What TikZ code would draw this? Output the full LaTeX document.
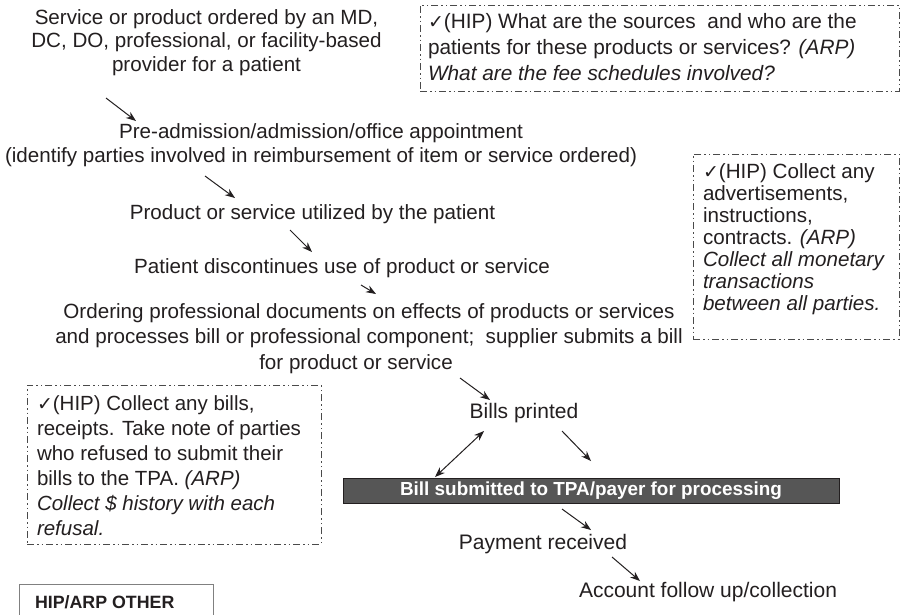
\documentclass[tikz,border=0pt]{standalone}
\usepackage{fontspec}
\setmainfont{Liberation Sans}
\newfontfamily\symfont{DejaVu Sans}
\usetikzlibrary{arrows.meta}
\definecolor{ink}{HTML}{231F20}
\definecolor{barfill}{HTML}{565656}
\definecolor{framegray}{HTML}{4A4A4A}
\newcommand{\tickmark}{{\symfont\fontsize{19}{19}\selectfont ✓}}

\begin{document}
\begin{tikzpicture}[x=1pt,y=-1pt,
  every node/.style={inner sep=0pt, outer sep=0pt, text=ink},
  flowtext/.style={align=center, font=\fontsize{20.6}{24.5}\selectfont},
  bigtext/.style={font=\fontsize{21}{25}\selectfont},
  notetext/.style={align=left, anchor=west},
  notebox/.style={draw=framegray, line width=0.9pt, anchor=north west,
    dash pattern=on 7pt off 3pt on 1.5pt off 3pt on 1.5pt off 3pt},
  flow/.style={draw=ink, line width=1pt, -{Stealth[length=10pt,width=7.5pt]}},
  flowboth/.style={draw=ink, line width=1pt, {Stealth[length=10pt,width=7.5pt]}-{Stealth[length=10pt,width=7.5pt]}},
]
\useasboundingbox (0,0) rectangle (901,614);
\clip (0,0) rectangle (901,614);
\fill[white] (0,0) rectangle (901,614);

% main flow of the bill
\node[flowtext, font=\fontsize{20.6}{23.5}\selectfont] (order) at (206.5,42.5)
  {Service or product ordered by an MD,\\ DC, DO, professional, or facility-based\\ provider for a patient};
\node[flowtext] (admit) at (321,145)
  {Pre-admission/admission/office appointment\\ (identify parties involved in reimbursement of item or service ordered)};
\node[flowtext] (use) at (312.5,214) {Product or service utilized by the patient};
\node[flowtext] (stop) at (342,268) {Patient discontinues use of product or service};
\node[flowtext, font=\fontsize{20.6}{25.5}\selectfont] (docs) at (369,338.5)
  {Ordering professional documents on effects of products or services\\
   and processes bill or professional component;~ supplier submits a bill\\
   \hspace*{-26pt}for product or service};
\node[bigtext] (bills) at (524,413) {Bills printed};
\node[fill=barfill, draw=ink, line width=0.8pt, minimum width=496, minimum height=25,
  text=white, font=\bfseries\fontsize{18.9}{20}\selectfont] (submit) at (591,490.5)
  {Bill submitted to TPA/payer for processing};
\node[bigtext] (paid) at (543,544) {Payment received};
\node[bigtext] (follow) at (708,592) {Account follow up/collection};

% arrow end points
\coordinate (a1s) at (106,98);  \coordinate (a1e) at (136,121);
\coordinate (a2s) at (205,176); \coordinate (a2e) at (235,198);
\coordinate (a3s) at (290,230); \coordinate (a3e) at (312,252);
\coordinate (a4s) at (361,285); \coordinate (a4e) at (376,294);
\coordinate (a5s) at (460,378); \coordinate (a5e) at (490,400);
\coordinate (a6s) at (435,477); \coordinate (a6e) at (484,431);
\coordinate (a7s) at (562,431); \coordinate (a7e) at (591,461);
\coordinate (a8s) at (562,509); \coordinate (a8e) at (591,530);
\coordinate (a9s) at (612,557); \coordinate (a9e) at (640,581);

\draw[flow] (a1s) -- (a1e);
\draw[flow] (a2s) -- (a2e);
\draw[flow] (a3s) -- (a3e);
\draw[flow] (a4s) -- (a4e);
\draw[flow] (a5s) -- (a5e);
\draw[flowboth] (a6s) -- (a6e);
\draw[flow] (a7s) -- (a7e);
\draw[flow] (a8s) -- (a8e);
\draw[flow] (a9s) -- (a9e);

% HIP / ARP notes
\node[notebox, minimum width=479, minimum height=86] (hipA) at (420,5) {};
\node[notetext, font=\fontsize{20.8}{26}\selectfont] (hipAtext) at (428,47)
  {\tickmark(HIP) What are the sources~ and who are the\\
   patients for these products or services? \textit{(ARP)}\\
   \textit{What are the fee schedules involved?}};

\node[notebox, minimum width=206, minimum height=185] (hipB) at (693,154) {};
\node[notetext, font=\fontsize{20.6}{22}\selectfont] (hipBtext) at (703,239)
  {\tickmark(HIP) Collect any\\ advertisements,\\ instructions,\\
   contracts. \textit{(ARP)}\\ \textit{Collect all monetary}\\
   \textit{transactions}\\ \textit{between all parties.}};

\node[notebox, minimum width=294, minimum height=159] (hipC) at (27,385) {};
\node[notetext, font=\fontsize{20.5}{25}\selectfont] (hipCtext) at (37,466)
  {\tickmark(HIP) Collect any bills,\\ receipts. Take note of parties\\
   who refused to submit their\\ bills to the TPA. \textit{(ARP)}\\
   \textit{Collect \$ history with each}\\ \textit{refusal.}};

% legend box, running past the lower edge
\node[draw=gray, line width=0.8pt, fill=white, anchor=north west,
  minimum width=194, minimum height=60] (other) at (19,584) {};
\node[anchor=west, font=\bfseries\fontsize{17.8}{20}\selectfont] (otherlabel) at (35,602)
  {HIP/ARP OTHER};
\end{tikzpicture}
\end{document}
